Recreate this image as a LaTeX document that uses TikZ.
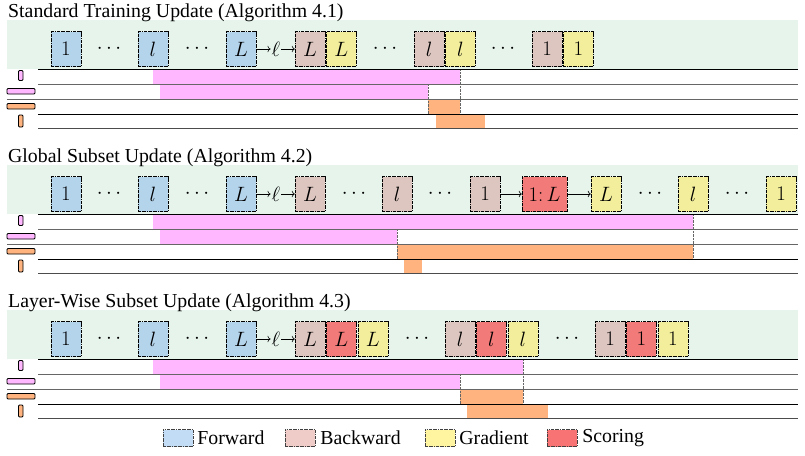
\documentclass[tikz,border=0pt]{standalone}
\usepackage{fontspec}
\setmainfont{Liberation Serif}
\usepackage{tikz}
\usepackage{xcolor}
\usetikzlibrary{shapes.geometric, arrows, arrows.meta, positioning}
\definecolor{fwcol}{RGB}{180,212,236}
\definecolor{bwcol}{RGB}{221,198,192}
\definecolor{grcol}{RGB}{242,238,155}
\definecolor{sccol}{RGB}{242,122,120}
\definecolor{lgfw}{RGB}{194,220,246}
\definecolor{lgbw}{RGB}{240,204,200}
\definecolor{lggr}{RGB}{255,244,160}
\definecolor{lgsc}{RGB}{248,116,116}
\definecolor{bandcol}{RGB}{230,244,236}
\definecolor{pinkcol}{RGB}{255,184,255}
\definecolor{orangecol}{RGB}{255,180,127}
\tikzstyle{layer} = [rectangle, 
minimum width=30pt, 
minimum height=35pt, 
inner sep=0pt, 
draw=black, 
densely dash dot]
\tikzstyle{fw} = [layer, fill=fwcol]
\tikzstyle{bw} = [layer, fill=bwcol]
\tikzstyle{gr} = [layer, fill=grcol]
\tikzstyle{sc} = [layer, fill=sccol]
\tikzstyle{legbox} = [rectangle, 
minimum width=30pt, 
minimum height=17pt, 
inner sep=0pt, 
draw=black!75, 
densely dash dot]
\tikzstyle{legtext} = [inner sep=0pt]
\tikzstyle{title} = [anchor=west, inner sep=0pt]
\tikzstyle{arrow} = [-{To[length=3pt]}, semithick]
\tikzstyle{icon} = [draw=black, rounded corners=1pt, line width=0.8pt]

\begin{document}
\begin{tikzpicture}[x=1pt, y=-1pt, node distance=1pt, font=\fontsize{19.8}{23}\selectfont]
        \useasboundingbox (0,0) rectangle (805,455);

        % --- Fondo de cada bloque ---
        \foreach \dy in {0,145,290} {
            \fill[bandcol] (7,20+\dy) rectangle (798,69+\dy);
        }

        % --- Barras de memoria ---
        % Algoritmo 4.1
        \fill[pinkcol] (153,69) rectangle (460,84);
        \fill[pinkcol] (160,84) rectangle (428,99);
        \fill[orangecol] (428,99) rectangle (460,114);
        \fill[orangecol] (436,114) rectangle (485,128);
        \draw[densely dotted, black!60] (428,84) -- (428,114);
        \draw[densely dotted, black!60] (460,69) -- (460,114);
        % Algoritmo 4.2
        \fill[pinkcol] (153,214) rectangle (693,229);
        \fill[pinkcol] (160,229) rectangle (397,244);
        \fill[orangecol] (397,244) rectangle (693,259);
        \fill[orangecol] (404,259) rectangle (422,273);
        \draw[densely dotted, black!60] (397,229) -- (397,259);
        \draw[densely dotted, black!60] (693,214) -- (693,259);
        % Algoritmo 4.3
        \fill[pinkcol] (153,359) rectangle (523,374);
        \fill[pinkcol] (160,374) rectangle (460,389);
        \fill[orangecol] (460,389) rectangle (523,404);
        \fill[orangecol] (467,404) rectangle (548,418);
        \draw[densely dotted, black!60] (460,374) -- (460,404);
        \draw[densely dotted, black!60] (523,359) -- (523,404);

        % --- Lineas e iconos ---
        \foreach \dy in {0,145,290} {
            \draw[black, line width=0.8pt] (38,69+\dy) -- (798,69+\dy);
            \draw[black!60, line width=0.8pt] (38,84+\dy) -- (798,84+\dy);
            \draw[black!60, line width=0.8pt] (7,99+\dy) -- (798,99+\dy);
            \draw[black, line width=0.8pt] (38,114+\dy) -- (798,114+\dy);
            \draw[black!70, line width=0.8pt] (38,128+\dy) -- (798,128+\dy);
            \filldraw[icon, fill=pinkcol] (18.5,70.5+\dy) rectangle (23,80.5+\dy);
            \filldraw[icon, fill=pinkcol] (7,88.5+\dy) rectangle (35,94+\dy);
            \filldraw[icon, fill=orangecol] (7,103.5+\dy) rectangle (35,109+\dy);
            \filldraw[icon, fill=orangecol] (18.5,115+\dy) rectangle (23,127+\dy);
        }

        % --- Standard Training Update ---
        \node (titleA) [title] at (8,13) {Standard Training Update (Algorithm 4.1)};
        \node (fwA1) [fw] at (66,49) {$1$};
        \node (dotsA1) at (109,49) {$\cdots$};
        \node (fwAl) [fw] at (153,49) {$l$};
        \node (dotsA2) at (197,49) {$\cdots$};
        \node (fwAL) [fw] at (241,49) {$L$};
        \node (lossA) [inner sep=1pt] at (276,49) {$\ell$};
        \node (bwAL) [bw] at (310,49) {$L$};
        \node (grAL) [gr, right=of bwAL] {$L$};
        \node (dotsA3) at (385,49) {$\cdots$};
        \node (bwAl) [bw] at (429,49) {$l$};
        \node (grAl) [gr, right=of bwAl] {$l$};
        \node (dotsA4) at (503,49) {$\cdots$};
        \node (bwA1) [bw] at (547,49) {$1$};
        \node (grA1) [gr, right=of bwA1] {$1$};
        \draw [arrow] (fwAL) -- (lossA);
        \draw [arrow] (lossA) -- (bwAL);

        % --- Global Subset Update ---
        \node (titleB) [title] at (8,158) {Global Subset Update (Algorithm 4.2)};
        \node (fwB1) [fw] at (66,194) {$1$};
        \node (dotsB1) at (109,194) {$\cdots$};
        \node (fwBl) [fw] at (153,194) {$l$};
        \node (dotsB2) at (197,194) {$\cdots$};
        \node (fwBL) [fw] at (241,194) {$L$};
        \node (lossB) [inner sep=1pt] at (276,194) {$\ell$};
        \node (bwBL) [bw] at (310,194) {$L$};
        \node (dotsB3) at (354,194) {$\cdots$};
        \node (bwBl) [bw] at (397,194) {$l$};
        \node (dotsB4) at (440,194) {$\cdots$};
        \node (bwB1) [bw] at (485,194) {$1$};
        \node (scB) [sc, minimum width=45pt] at (544.5,194) {$1\colon L$};
        \node (grBL) [gr] at (606,194) {$L$};
        \node (dotsB5) at (650,194) {$\cdots$};
        \node (grBl) [gr] at (693,194) {$l$};
        \node (dotsB6) at (737,194) {$\cdots$};
        \node (grB1) [gr] at (781,194) {$1$};
        \draw [arrow] (fwBL) -- (lossB);
        \draw [arrow] (lossB) -- (bwBL);
        \draw [arrow] (bwB1) -- (scB);
        \draw [arrow] (scB) -- (grBL);

        % --- Layer-Wise Subset Update ---
        \node (titleC) [title] at (8,303) {Layer-Wise Subset Update (Algorithm 4.3)};
        \node (fwC1) [fw] at (66,339) {$1$};
        \node (dotsC1) at (109,339) {$\cdots$};
        \node (fwCl) [fw] at (153,339) {$l$};
        \node (dotsC2) at (197,339) {$\cdots$};
        \node (fwCL) [fw] at (241,339) {$L$};
        \node (lossC) [inner sep=1pt] at (276,339) {$\ell$};
        \node (bwCL) [bw] at (310,339) {$L$};
        \node (scCL) [sc, right=of bwCL] {$L$};
        \node (grCL) [gr, right=of scCL] {$L$};
        \node (dotsC3) at (417,339) {$\cdots$};
        \node (bwCl) [bw] at (460,339) {$l$};
        \node (scCl) [sc, right=of bwCl] {$l$};
        \node (grCl) [gr, right=of scCl] {$l$};
        \node (dotsC4) at (567,339) {$\cdots$};
        \node (bwC1) [bw] at (610,339) {$1$};
        \node (scC1) [sc, right=of bwC1] {$1$};
        \node (grC1) [gr, right=of scC1] {$1$};
        \draw [arrow] (fwCL) -- (lossC);
        \draw [arrow] (lossC) -- (bwCL);

        % --- Leyenda ---
        \node (lgFw) [legbox, fill=lgfw] at (178,438) {};
        \node (lgFwTxt) [legtext, right=4pt of lgFw] {Forward};
        \node (lgBw) [legbox, fill=lgbw] at (300,438) {};
        \node (lgBwTxt) [legtext, right=5pt of lgBw] {Backward};
        \node (lgGr) [legbox, fill=lggr] at (440,438) {};
        \node (lgGrTxt) [legtext, right=4pt of lgGr] {Gradient};
        \node (lgSc) [legbox, fill=lgsc] at (562,438) {};
        \node (lgScTxt) [legtext, right=5pt of lgSc] {Scoring};

    \end{tikzpicture}
\end{document}
